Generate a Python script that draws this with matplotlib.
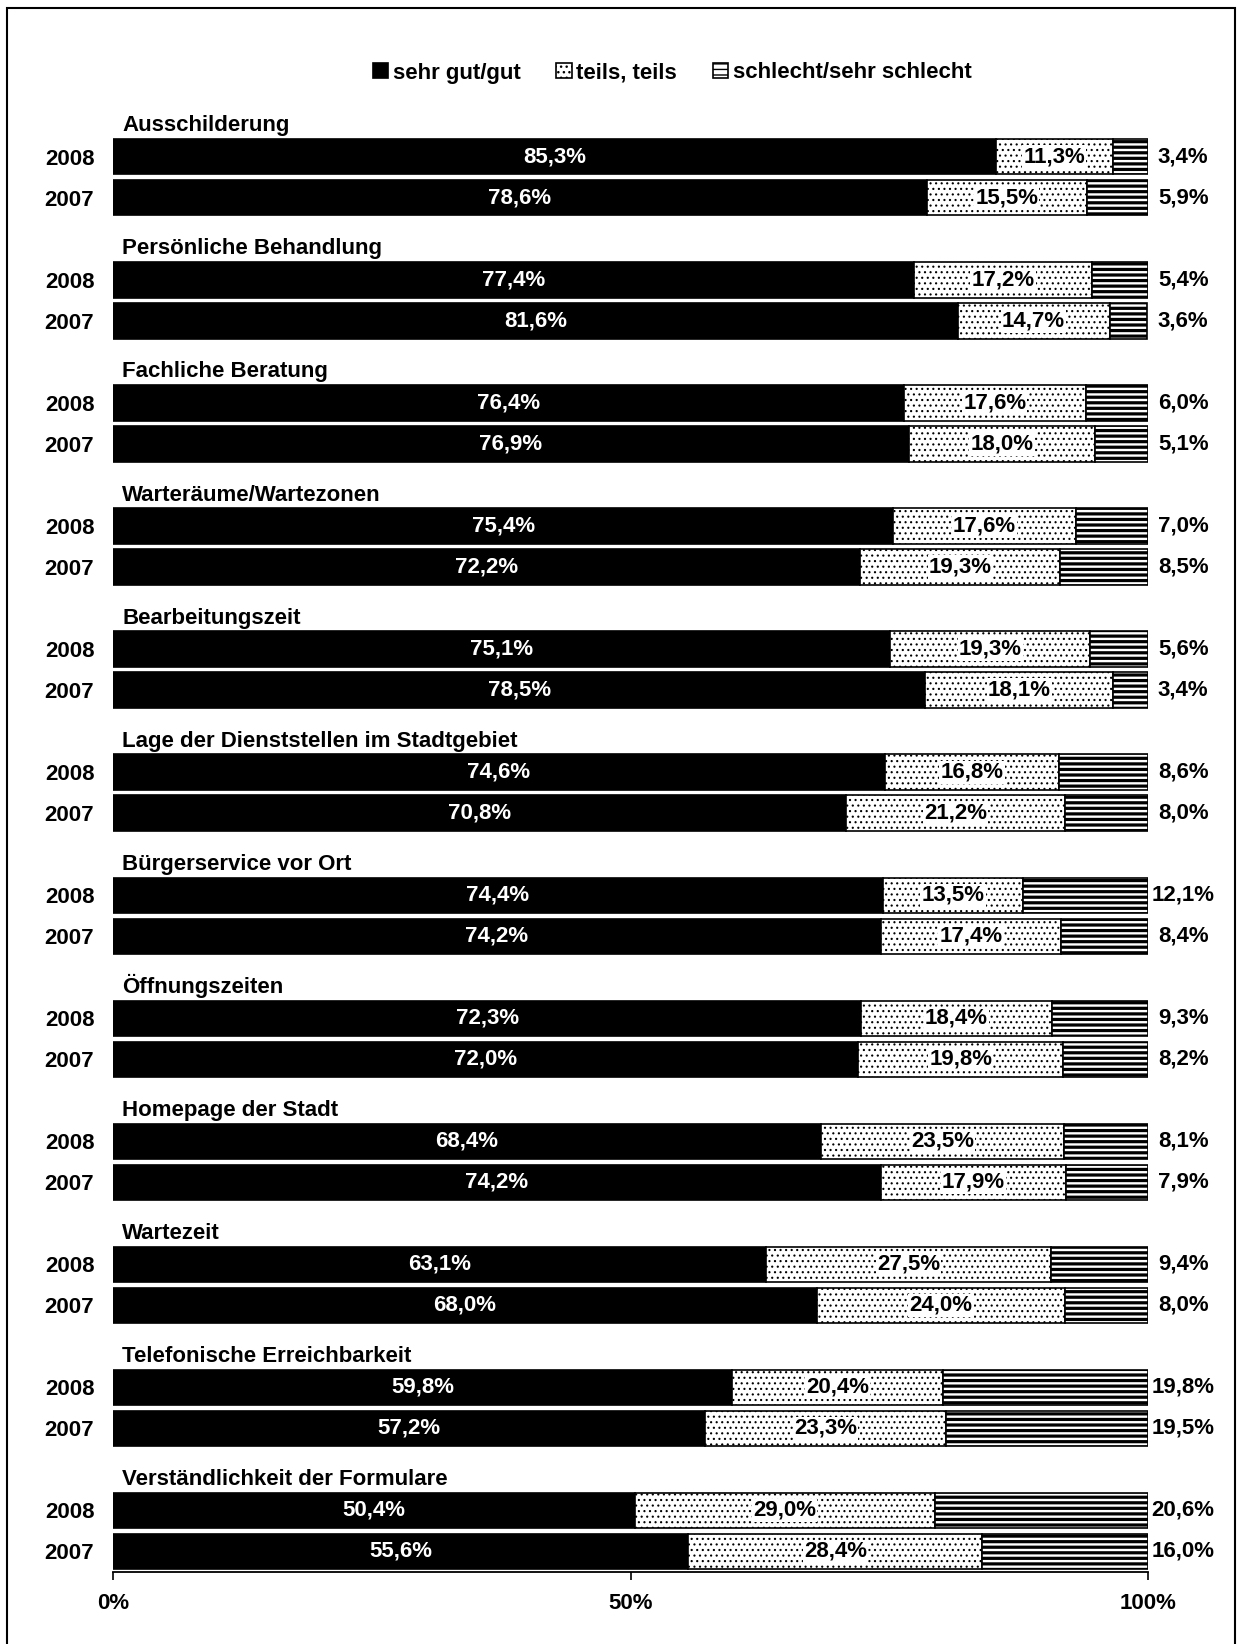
import matplotlib
matplotlib.use("Agg")
import matplotlib.pyplot as plt
from matplotlib.patches import Rectangle
import numpy as np

categories = ["Ausschilderung", "Persönliche Behandlung", "Fachliche Beratung",
              "Warteräume/Wartezonen", "Bearbeitungszeit",
              "Lage der Dienststellen im Stadtgebiet", "Bürgerservice vor Ort",
              "Öffnungszeiten", "Homepage der Stadt", "Wartezeit",
              "Telefonische Erreichbarkeit", "Verständlichkeit der Formulare"]
years = ["2008", "2007"]
series_names = ["sehr gut/gut", "teils, teils", "schlecht/sehr schlecht"]

good_2008 = [85.3, 77.4, 76.4, 75.4, 75.1, 74.6, 74.4, 72.3, 68.4, 63.1, 59.8, 50.4]
mid_2008 = [11.3, 17.2, 17.6, 17.6, 19.3, 16.8, 13.5, 18.4, 23.5, 27.5, 20.4, 29.0]
bad_2008 = [3.4, 5.4, 6.0, 7.0, 5.6, 8.6, 12.1, 9.3, 8.1, 9.4, 19.8, 20.6]
good_2007 = [78.6, 81.6, 76.9, 72.2, 78.5, 70.8, 74.2, 72.0, 74.2, 68.0, 57.2, 55.6]
mid_2007 = [15.5, 14.7, 18.0, 19.3, 18.1, 21.2, 17.4, 19.8, 17.9, 24.0, 23.3, 28.4]
bad_2007 = [5.9, 3.6, 5.1, 8.5, 3.4, 8.0, 8.4, 8.2, 7.9, 8.0, 19.5, 16.0]

xticks = [0, 50, 100]
xticklabels = ["0%", "50%", "100%"]

FONT = "Liberation Sans"
FS = 16
plt.rcParams['font.family'] = [FONT, 'DejaVu Sans']
plt.rcParams['font.weight'] = 'bold'

W, H = 1240, 1644
fig = plt.figure(figsize=(W / 100, H / 100), dpi=100)
ax = fig.add_axes([113 / W, 1 - 1572 / H, (1148 - 113) / W, (1572 - 100) / H])

n = len(categories)
idx = np.arange(n)
pos_2008 = 3 * idx + 1
pos_2007 = 3 * idx + 2
bar_h = 0.86


def fmt(v):
    return f"{v:.1f}".replace(".", ",") + "%"


def draw_stack(pos, good, mid, bad):
    good = np.array(good)
    mid = np.array(mid)
    bad = np.array(bad)
    b1 = ax.barh(pos, good, height=bar_h, color="black", edgecolor="black",
                 linewidth=1.2, label=series_names[0])
    with plt.rc_context({'hatch.linewidth': 0.8}):
        b2 = ax.barh(pos, mid, left=good, height=bar_h, color="white",
                     edgecolor="black", linewidth=1.2, hatch="...",
                     label=series_names[1])
    with plt.rc_context({'hatch.linewidth': 2.3}):
        b3 = ax.barh(pos, bad, left=good + mid, height=bar_h, color="white",
                     edgecolor="black", linewidth=1.2, hatch="---",
                     label=series_names[2])
    for p in b2:
        if hasattr(p, "set_hatch_linewidth"):
            p.set_hatch_linewidth(0.8)
    for p in b3:
        if hasattr(p, "set_hatch_linewidth"):
            p.set_hatch_linewidth(2.3)
    for y, g, m, b in zip(pos, good, mid, bad):
        ax.text(g / 2, y, fmt(g), color="white", fontsize=FS, fontweight="bold",
                ha="center", va="center")
        ax.text(g + m / 2, y, fmt(m), color="black", fontsize=FS, fontweight="bold",
                ha="center", va="center",
                bbox=dict(facecolor="white", edgecolor="none", pad=0.8))
        ax.text(103.4, y, fmt(b), color="black", fontsize=FS, fontweight="bold",
                ha="center", va="center", clip_on=False)
    return b1, b2, b3


h = draw_stack(pos_2008, good_2008, mid_2008, bad_2008)
draw_stack(pos_2007, good_2007, mid_2007, bad_2007)

for i, cat in enumerate(categories):
    ax.text(0.9, pos_2008[i] - 0.62, cat, fontsize=FS, fontweight="bold",
            ha="left", va="baseline")

ax.set_xlim(0, 100)
ax.set_ylim(35.5, -0.385)

yt = np.concatenate([pos_2008, pos_2007])
ylabels = [years[0]] * n + [years[1]] * n
ax.set_yticks(yt)
ax.set_yticklabels(ylabels, fontsize=FS, fontweight="bold")
ax.tick_params(axis="y", length=0, pad=13.5)

ax.set_xticks(xticks)
ax.set_xticklabels(xticklabels, fontsize=FS, fontweight="bold")
ax.tick_params(axis="x", length=6, width=1.2, pad=9, direction="out")

for s in ["top", "right", "left"]:
    ax.spines[s].set_visible(False)
ax.spines["bottom"].set_linewidth(1.3)

leg = fig.legend(handles=list(h), labels=series_names, loc="center",
                 bbox_to_anchor=(0.542, 1 - 73 / H), ncol=3, frameon=False,
                 prop={"family": FONT, "weight": "bold", "size": FS},
                 handlelength=0.7, handleheight=0.7, handletextpad=0.2,
                 columnspacing=1.6)

frame = Rectangle((7 / W, -0.01), (1235 - 7) / W, 1 - 8 / H + 0.01,
                  transform=fig.transFigure, fill=False, edgecolor="black",
                  linewidth=1.5)
fig.add_artist(frame)

fig.savefig("out.png", dpi=100, facecolor="white")
